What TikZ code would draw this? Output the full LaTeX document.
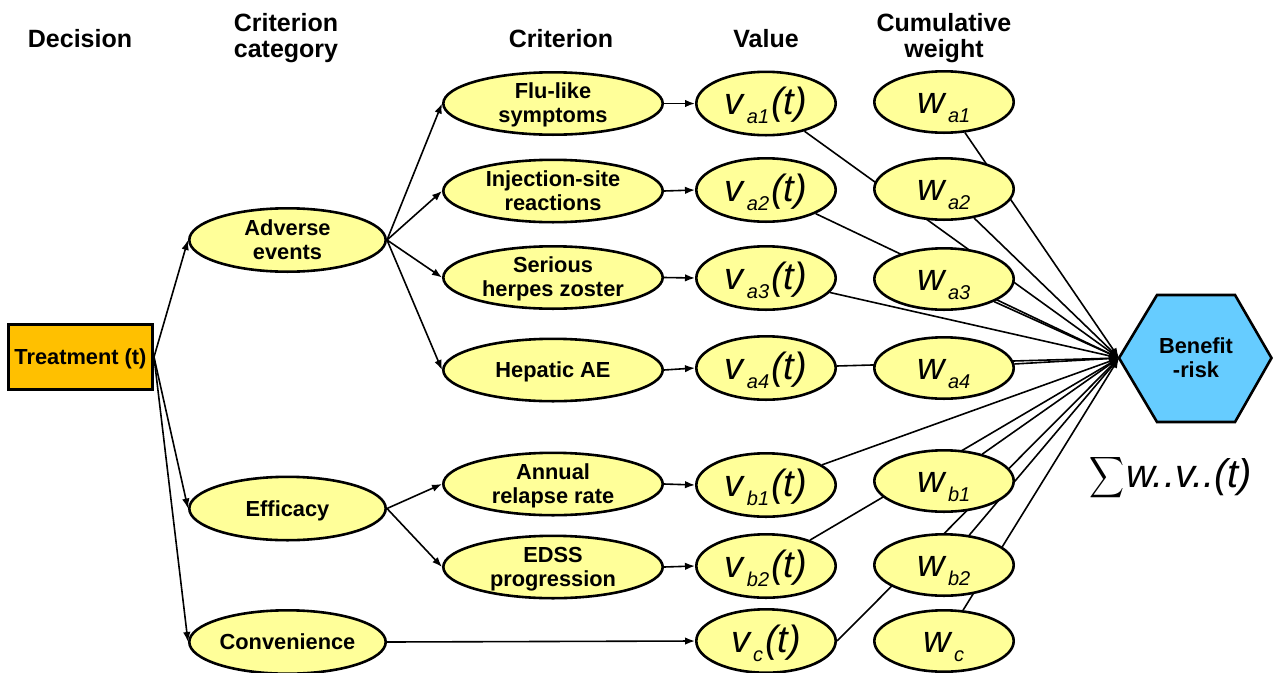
\documentclass[tikz,border=0pt]{standalone}
\usepackage{fontspec}
\usepackage{graphicx}
\setmainfont{Liberation Sans}
\usetikzlibrary{shapes.geometric,arrows.meta}
\pgfdeclarelayer{bg}
\pgfsetlayers{bg,main}
\definecolor{ellfill}{HTML}{FFFF99}
\definecolor{trtfill}{HTML}{FFC000}
\definecolor{hexfill}{HTML}{66CCFF}
\newcommand\twol[2]{\raisebox{5pt}[0pt][0pt]{\begin{tabular}[t]{@{}c@{}}#1\\#2\end{tabular}}}
\newcommand\onel[1]{\raisebox{-7.8pt}[0pt][0pt]{#1}}
\newcommand\vlab[1]{\raisebox{-11pt}[0pt][0pt]{\mdseries\fontsize{38}{40}\selectfont\itshape v\kern3pt\raisebox{-9pt}{\fontsize{20}{22}\selectfont #1}\kern2pt(t)}}
\newcommand\wlab[1]{\raisebox{-11pt}[0pt][0pt]{\mdseries\fontsize{38}{40}\selectfont\itshape w\kern3pt\raisebox{-9pt}{\fontsize{20}{22}\selectfont #1}}}
\begin{document}
\begin{tikzpicture}[x=1pt,y=-1pt,
  ellbase/.style={ellipse, draw=black, line width=2.6pt, fill=ellfill, inner sep=0pt,
    font=\fontsize{21.8}{24}\selectfont\bfseries},
  crit/.style={ellbase, minimum width=219.4pt, minimum height=62.4pt},
  cat/.style={ellbase, minimum width=196.4pt, minimum height=63.4pt},
  val/.style={ellbase, minimum width=139.4pt, minimum height=63.4pt},
  wgt/.style={ellbase, minimum width=139.4pt, minimum height=61.4pt},
  head/.style={inner sep=0pt, align=center, font=\fontsize{25}{26}\selectfont\bfseries},
  conn/.style={draw=black, line width=1.6pt},
  arr/.style={conn, -{Latex[length=10pt,width=7.5pt]}}
]
\useasboundingbox (0,0) rectangle (1273,672);

% headings
\node[head, anchor=base] (hdec) at (80,47) {Decision};
\node[head] (hcat) at (286,38.5) {Criterion\\category};
\node[head, anchor=base] (hcrit) at (561,47) {Criterion};
\node[head, anchor=base] (hval) at (766,47) {Value};
\node[head] (hwgt) at (944,38.5) {Cumulative\\weight};

% decision
\node[rectangle, draw=black, line width=2.6pt, fill=trtfill, minimum width=144.4pt,
  minimum height=65.4pt, inner sep=0pt, font=\fontsize{21.8}{24}\selectfont\bfseries]
  (trt) at (80.5,357) {\onel{Treatment (t)}};

% categories
\node[cat] (ae) at (287.5,240) {\twol{Adverse}{events}};
\node[cat] (eff) at (287.5,508.5) {\onel{Efficacy}};
\node[cat] (conv) at (287.5,642) {\onel{Convenience}};

% criteria
\node[crit] (flu) at (553,103.5) {\twol{Flu-like}{symptoms}};
\node[crit] (inj) at (553,191) {\twol{Injection-site}{reactions}};
\node[crit] (ser) at (553,277.5) {\twol{Serious}{herpes zoster}};
\node[crit] (hep) at (553,370) {\onel{Hepatic AE}};
\node[crit] (ann) at (553,484) {\twol{Annual}{relapse rate}};
\node[crit] (edss) at (553,567) {\twol{EDSS}{progression}};

% values
\node[val] (va1) at (766,103.5) {\vlab{a1}};
\node[val] (va2) at (766,190) {\vlab{a2}};
\node[val] (va3) at (766,278) {\vlab{a3}};
\node[val] (va4) at (766,368) {\vlab{a4}};
\node[val] (vb1) at (766,485) {\vlab{b1}};
\node[val] (vb2) at (766,566) {\vlab{b2}};
\node[val] (vc) at (766,641) {\vlab{c}};

% weights
\node[wgt] (wa1) at (944,102) {\wlab{a1}};
\node[wgt] (wa2) at (944,189) {\wlab{a2}};
\node[wgt] (wa3) at (944,279) {\wlab{a3}};
\node[wgt] (wa4) at (944,368) {\wlab{a4}};
\node[wgt] (wb1) at (944,481) {\wlab{b1}};
\node[wgt] (wb2) at (944,565) {\wlab{b2}};
\node[wgt] (wc) at (944,641) {\wlab{c}};

% benefit-risk hexagon
\coordinate (BR) at (1119,358);
\path[draw=black, line width=2.6pt, fill=hexfill, line join=miter]
  (BR) -- (1157,295) -- (1235,295) -- (1271.5,358) -- (1235,422) -- (1157,422) -- cycle;
\node[inner sep=0pt, font=\fontsize{21.8}{24}\selectfont\bfseries] (brt) at (1196,358) {\twol{Benefit}{-risk}};

% formula
\node[anchor=base west, inner sep=0pt] (sumf) at (1089,487)
  {\raisebox{1.8pt}{\resizebox*{35pt}{46pt}{$\displaystyle\sum$}}\kern2pt{\fontsize{40}{42}\selectfont\itshape w..v..(t)}};

% arrows decision -> categories
\draw[arr] (trt.east) -- (ae.west);
\draw[arr] (trt.east) -- (eff.west);
\draw[arr] (trt.east) -- (conv.west);
% categories -> criteria
\draw[arr] (ae.east) -- (flu.west);
\draw[arr] (ae.east) -- (inj.west);
\draw[arr] (ae.east) -- (ser.west);
\draw[arr] (ae.east) -- (hep.west);
\draw[arr] (eff.east) -- (ann.west);
\draw[arr] (eff.east) -- (edss.west);
% criteria -> values
\draw[arr] (flu.east) -- (va1.west);
\draw[arr] (inj.east) -- (va2.west);
\draw[arr] (ser.east) -- (va3.west);
\draw[arr] (hep.east) -- (va4.west);
\draw[arr] (ann.east) -- (vb1.west);
\draw[arr] (edss.east) -- (vb2.west);
\draw[arr] (conv.east) -- (vc.west);

% values and weights -> benefit-risk (behind the weight ellipses)
\begin{pgfonlayer}{bg}
\foreach \n in {va1,va2,va3,va4,vb1,vb2,wa1,wa2,wa3,wa4,wb1,wb2,wc}
  \draw[arr] (\n) -- (BR);
\draw[arr] (vc.east) -- (BR);
\end{pgfonlayer}
\end{tikzpicture}
\end{document}
